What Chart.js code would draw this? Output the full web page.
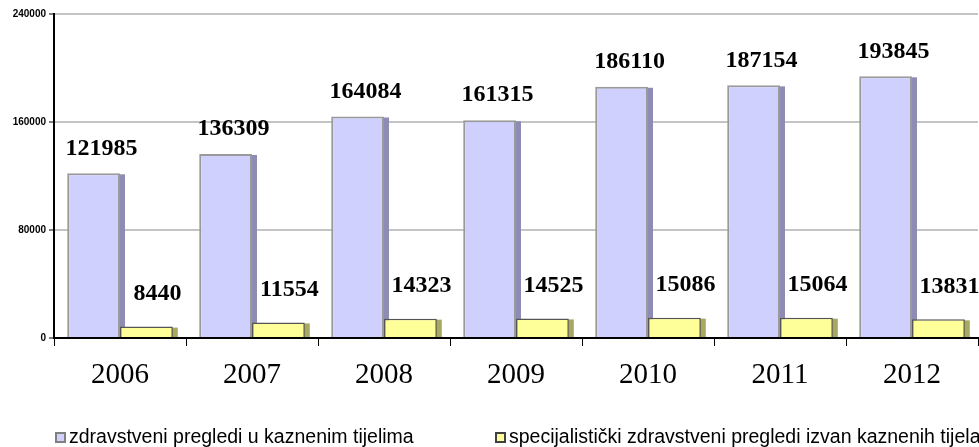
<!DOCTYPE html>
<html>
<head>
<meta charset="utf-8">
<script src="https://cdn.jsdelivr.net/npm/chart.js@4"></script>
<style>
  html, body { margin: 0; padding: 0; background: #fff; }
  #wrap { position: relative; width: 979px; height: 447px; overflow: hidden; }
  #c { position: absolute; left: 0; top: 0; }
  .leg { position: absolute; top: 425px; font-family: "Liberation Sans", Arial, sans-serif; font-size: 19.5px; color: #000; white-space: nowrap; line-height: 22px; }
  .leg i { display: inline-block; width: 7px; height: 7px; border: 2px solid #808080; margin-right: 3px; vertical-align: 0px; }
</style>
</head>
<body>
<div id="wrap">
  <canvas id="c" width="979" height="447"></canvas>
  <div class="leg" id="leg0" style="left:55px"></div>
  <div class="leg" id="leg1" style="left:495px"></div>
</div>
<script>
const categories = ["2006", "2007", "2008", "2009", "2010", "2011", "2012"];
const seriesNames = [
  "zdravstveni pregledi u kaznenim tijelima",
  "specijalistički zdravstveni pregledi izvan kaznenih tijela"
];
const insideValues = [121985, 136309, 164084, 161315, 186110, 187154, 193845];
const outsideValues = [8440, 11554, 14323, 14525, 15086, 15064, 13831];
const yTicks = [0, 80000, 160000, 240000];

const faceColors = ["#d0d0ff", "#ffff99"];
const edgeColors = ["#9a9a9a", "#555555"];
const markerEdges = ["#808080", "#404040"];
const shadowColors = ["#8c8cb4", "#a8a860"];

const shadowPlugin = {
  id: "shadow3d",
  beforeDatasetsDraw(chart) {
    const ctx = chart.ctx;
    chart.data.datasets.forEach((ds, i) => {
      const meta = chart.getDatasetMeta(i);
      meta.data.forEach(bar => {
        const p = bar.getProps(["x", "y", "base", "width"], true);
        const right = p.x + p.width / 2;
        ctx.save();
        ctx.fillStyle = shadowColors[i];
        ctx.fillRect(right - 1, p.y + 1, 6, p.base - p.y - 1);
        ctx.restore();
      });
    });
  }
};

const labelPlugin = {
  id: "valueLabels",
  afterDatasetsDraw(chart) {
    const ctx = chart.ctx;
    ctx.save();
    ctx.font = "bold 24px 'Liberation Serif', 'Times New Roman', serif";
    ctx.fillStyle = "#000";
    ctx.textAlign = "center";
    ctx.textBaseline = "middle";
    const offs = [[8, 25], [11, 33]];
    chart.data.datasets.forEach((ds, i) => {
      const meta = chart.getDatasetMeta(i);
      meta.data.forEach((bar, j) => {
        const p = bar.getProps(["x", "y"], true);
        ctx.fillText(String(ds.data[j]), p.x + offs[i][0], p.y - offs[i][1]);
      });
    });
    ctx.restore();
  }
};

new Chart(document.getElementById("c"), {
  type: "bar",
  data: {
    labels: categories,
    datasets: [
      { label: seriesNames[0], data: insideValues, backgroundColor: faceColors[0], borderColor: edgeColors[0], borderWidth: 2 },
      { label: seriesNames[1], data: outsideValues, backgroundColor: faceColors[1], borderColor: edgeColors[1], borderWidth: 1.5 }
    ]
  },
  options: {
    responsive: false,
    animation: false,
    devicePixelRatio: 1,
    layout: { padding: { top: 14, right: 1, left: 0, bottom: 0 } },
    plugins: { legend: { display: false }, tooltip: { enabled: false } },
    datasets: { bar: { categoryPercentage: 0.8, barPercentage: 1.0 } },
    scales: {
      x: {
        offset: true,
        grid: { offset: true, drawOnChartArea: false, color: "#000", tickColor: "#000", tickLength: 8, lineWidth: 1 },
        border: { color: "#000", width: 2 },
        ticks: { color: "#000", padding: 12, font: { family: "'Liberation Serif', 'Times New Roman', serif", size: 29 } },
        afterFit(scale) { scale.height = 109; }
      },
      y: {
        min: 0, max: 240000,
        afterBuildTicks(scale) { scale.ticks = yTicks.map(v => ({ value: v })); },
        grid: { color: "#c4c4c4", lineWidth: 2, tickColor: "#000", tickLength: 5, tickWidth: 1 },
        border: { color: "#000", width: 2 },
        ticks: { color: "#000", padding: 3, font: { family: "'Liberation Sans', Arial, sans-serif", size: 10, weight: "bold" }, callback: v => String(v) },
        afterFit(scale) { scale.width = 54; }
      }
    }
  },
  plugins: [shadowPlugin, labelPlugin]
});

seriesNames.forEach((name, i) => {
  const el = document.getElementById("leg" + i);
  const sw = document.createElement("i");
  sw.style.background = faceColors[i];
  sw.style.borderColor = markerEdges[i];
  el.appendChild(sw);
  el.appendChild(document.createTextNode(name));
});
</script>
</body>
</html>
